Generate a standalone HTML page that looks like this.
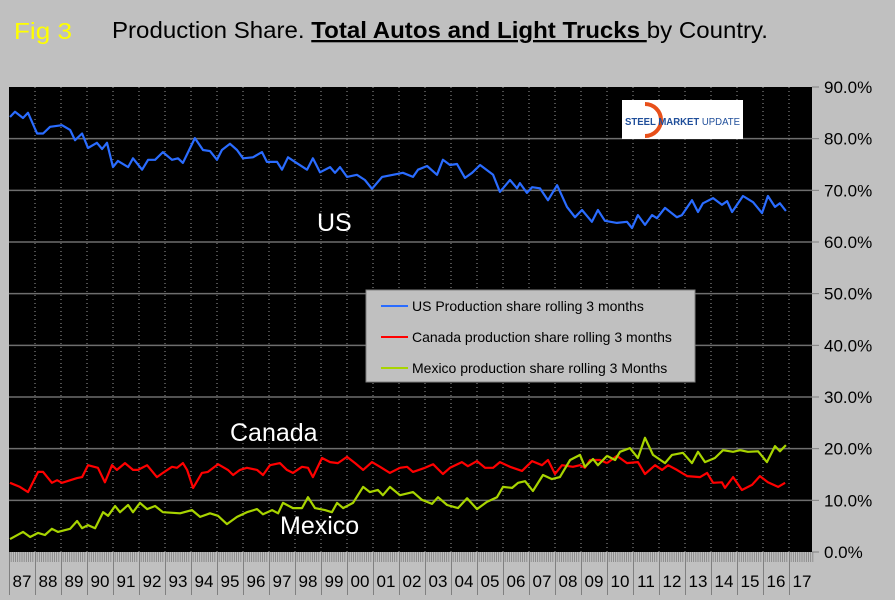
<!DOCTYPE html>
<html><head><meta charset="utf-8"><style>
html,body{margin:0;padding:0;background:#c0c0c0;}
svg{display:block;font-family:"Liberation Sans",sans-serif;}
</style></head><body>
<svg id="chart" width="895" height="600" viewBox="0 0 895 600">
<rect x="0" y="0" width="895" height="600" fill="#c0c0c0"/>
<text x="14" y="39" font-size="23" fill="#ffff00" textLength="58" lengthAdjust="spacingAndGlyphs">Fig 3</text>
<text x="112" y="38" font-size="23" fill="#000" textLength="656" lengthAdjust="spacingAndGlyphs">Production Share. <tspan font-weight="bold" text-decoration="underline">Total Autos and Light Trucks </tspan>by Country.</text>
<rect x="9" y="87" width="803" height="465" fill="#000"/>
<g id="grid"></g><g id="xaxis"></g><g id="yaxis"></g><g id="series"></g>
<text x="317" y="231" font-size="25" fill="#fff">US</text>
<text x="230" y="441" font-size="25" fill="#fff">Canada</text>
<text x="280" y="534" font-size="25" fill="#fff">Mexico</text>
<g>
<rect x="622" y="100" width="121" height="39" fill="#fff"/>
<path d="M645 104 A16 16 0 1 1 645 136" fill="none" stroke="#e8501a" stroke-width="4"/>
<text x="625" y="125" font-size="10.5" font-weight="bold" fill="#1f4e9a" textLength="115" lengthAdjust="spacingAndGlyphs">STEEL MARKET <tspan font-weight="normal">UPDATE</tspan></text>
</g>
<g>
<rect x="366" y="290" width="329" height="92" fill="#c0c0c0" stroke="#808080" stroke-width="1"/>
<line x1="381" y1="306" x2="408" y2="306" stroke="#2a6cff" stroke-width="2"/>
<text x="412" y="311" font-size="14" fill="#000">US Production share rolling 3 months</text>
<line x1="381" y1="337" x2="408" y2="337" stroke="#ff0000" stroke-width="2"/>
<text x="412" y="342" font-size="14" fill="#000">Canada production share rolling 3 months</text>
<line x1="381" y1="368" x2="408" y2="368" stroke="#a8d400" stroke-width="2"/>
<text x="412" y="373" font-size="14" fill="#000">Mexico production share rolling 3 Months</text>
</g>
</svg>
<script>
const yTicks=[0,10,20,30,40,50,60,70,80,90];
const yearLabels=["87","88","89","90","91","92","93","94","95","96","97","98","99","00","01","02","03","04","05","06","07","08","09","10","11","12","13","14","15","16","17"];
const usT=[.04,.23,.54,.73,1.08,1.31,1.58,2.04,2.35,2.54,2.81,3.04,3.38,3.58,3.77,4.0,4.19,4.58,4.77,5.12,5.35,5.62,5.92,6.27,6.5,6.69,7.15,7.46,7.73,8.0,8.19,8.5,8.77,9.0,9.38,9.73,9.92,10.31,10.5,10.73,11.0,11.46,11.69,11.96,12.35,12.54,12.73,13.0,13.38,13.69,13.96,14.35,14.77,15.15,15.54,15.73,16.08,16.46,16.69,16.96,17.23,17.54,17.81,18.12,18.62,18.88,19.27,19.54,19.65,19.92,20.12,20.42,20.73,21.08,21.46,21.77,22.04,22.42,22.65,22.92,23.38,23.77,23.96,24.19,24.46,24.73,24.92,25.23,25.69,25.88,26.27,26.5,26.69,27.08,27.42,27.62,27.81,28.23,28.62,28.96,29.19,29.46,29.65,29.88];
const usV=[84.2,85.2,84,85,81,81,82.3,82.6,81.7,79.7,81,78.2,79.2,78,79.2,74.5,75.7,74.5,76.2,74,75.9,75.9,77.4,75.9,76.2,75.3,80.1,77.8,77.6,75.9,77.8,79,77.8,76.2,76.4,77.4,75.5,75.5,74,76.4,75.5,74,76.2,73.5,74.5,73.4,74.5,72.6,73,72,70.3,72.6,73,73.4,72.6,74,74.7,73,75.9,74.9,75.1,72.4,73.4,74.9,73,69.7,72,70.4,71.4,69.5,70.6,70.4,68.1,71,66.8,64.8,66.2,63.9,66.2,64.1,63.7,63.9,62.7,65.2,63.3,65.2,64.6,66.6,64.8,65.2,68.1,65.8,67.5,68.5,67.2,67.9,65.8,68.9,67.7,65.6,68.9,66.8,67.5,66];
const caT=[.04,.42,.73,1.12,1.31,1.65,1.85,2.04,2.62,2.81,3.04,3.42,3.69,3.96,4.15,4.46,4.77,4.96,5.31,5.69,5.92,6.27,6.46,6.69,6.85,7.08,7.42,7.65,8.04,8.42,8.62,8.88,9.15,9.54,9.77,10.04,10.42,10.69,10.92,11.27,11.5,11.69,12.04,12.35,12.65,13.0,13.31,13.62,13.96,14.27,14.65,15.04,15.31,15.54,16.0,16.31,16.69,16.96,17.42,17.65,18.0,18.31,18.62,18.88,19.27,19.73,20.12,20.5,20.73,21.0,21.27,21.69,21.96,22.15,22.35,22.73,23.0,23.38,23.77,24.19,24.46,24.85,25.12,25.35,25.69,26.08,26.58,26.85,27.08,27.42,27.54,27.85,28.19,28.58,28.88,29.19,29.58,29.85];
const caV=[13.4,12.6,11.6,15.5,15.5,13.4,13.9,13.4,14.3,14.5,16.8,16.3,13.5,16.8,15.9,17.2,15.9,15.9,16.8,14.5,15.3,16.5,16.3,17.2,15.9,12.4,15.3,15.5,17,15.9,14.9,15.9,16.3,15.9,14.9,16.8,17.2,15.9,15.3,16.5,16.3,14.5,18.2,17.4,17.2,18.4,17.2,15.9,17.4,16.5,15.3,16.3,16.5,15.5,16.3,17,15.1,16.3,17.4,16.6,17.6,16.3,16.3,17.4,16.5,15.7,17.6,16.8,17.8,15.1,16.8,16.5,16.8,16.3,17.8,17.8,17.2,18.6,17.2,17.4,15.1,16.8,15.9,16.8,15.9,14.7,14.5,15.3,13.4,13.5,12.4,14.5,12,13,14.7,13.5,12.6,13.4];
const mxT=[.04,.54,.81,1.12,1.38,1.65,1.88,2.35,2.62,2.81,3.04,3.31,3.62,3.81,4.08,4.27,4.58,4.77,5.04,5.31,5.62,5.92,6.58,7.04,7.35,7.73,8.04,8.38,8.77,9.15,9.54,9.77,10.12,10.35,10.54,10.92,11.27,11.5,11.77,12.15,12.42,12.62,12.85,13.23,13.62,13.88,14.19,14.38,14.65,15.04,15.54,15.88,16.27,16.5,16.85,17.27,17.62,18.0,18.38,18.77,19.0,19.35,19.58,19.85,20.15,20.54,20.88,21.19,21.58,21.96,22.15,22.46,22.65,23.0,23.31,23.5,23.88,24.19,24.46,24.77,25.23,25.5,25.92,26.27,26.5,26.77,27.15,27.46,27.85,28.12,28.42,28.81,29.15,29.46,29.65,29.88];
const mxV=[2.5,3.9,2.9,3.7,3.3,4.5,3.9,4.5,6,4.6,5.2,4.6,7.7,7,8.9,7.7,9.1,7.7,9.5,8.3,8.9,7.7,7.5,8.1,6.8,7.5,7,5.4,6.8,7.7,8.3,7.3,8.1,7.5,9.5,8.5,8.5,10.6,8.5,8.1,7.7,9.5,8.5,9.5,12.6,11.6,12,11,12.6,11,11.6,10.1,9.3,10.6,9.1,8.5,10.4,8.3,9.7,10.6,12.6,12.4,13.4,13.7,11.8,14.9,14.1,14.5,17.8,18.8,16.5,18,16.8,18.6,17.8,19.4,20.1,18.2,22.1,18.8,17.2,18.8,19.2,17.2,19.4,17.4,18.2,19.7,19.4,19.7,19.4,19.5,17.4,20.5,19.5,20.7];

const NS="http://www.w3.org/2000/svg";
const X0=9,YW=26,Y0=552,PY=465/90;
function xs(t){return X0+t*YW;}
function ys(v){return Y0-v*PY;}
function mk(tag,attrs,parent){const e=document.createElementNS(NS,tag);for(const k in attrs)e.setAttribute(k,attrs[k]);parent.appendChild(e);return e;}
const grid=document.getElementById('grid'),xa=document.getElementById('xaxis'),ya=document.getElementById('yaxis'),ser=document.getElementById('series');
yearLabels.forEach((lab,i)=>{
  if(i>0){const g=mk('line',{x1:xs(i),x2:xs(i),y1:87,y2:552,stroke:'#9a9a9a','stroke-width':1,'stroke-dasharray':'1,3'},grid);
  
  }
  const sep=mk('line',{x1:xs(i)+0.5,x2:xs(i)+0.5,y1:552,y2:595,stroke:'#808080','stroke-width':1},xa);
  
  
  for(let m=1;m<12;m++){const tk=mk('line',{x1:xs(i+m/12),x2:xs(i+m/12),y1:552,y2:562,stroke:'#808080','stroke-width':0.8},xa);
  
  }
  const tx=mk('text',{x:xs(i+0.5),y:587,'font-size':17,'text-anchor':'middle',fill:'#000'},xa);
  tx.textContent=lab;
  
  
});
yTicks.forEach(v=>{
  if(v>0&&v<90){const g=mk('line',{x1:9,x2:812,y1:ys(v),y2:ys(v),stroke:'#6e6e6e','stroke-width':1.5},grid);
  
  }
  const tk=mk('line',{x1:812,x2:819,y1:ys(v),y2:ys(v),stroke:'#808080','stroke-width':1},ya);
  
  
  const tx=mk('text',{x:824,y:ys(v)+6,'font-size':17,fill:'#000'},ya);
  tx.textContent=v.toFixed(1)+'%';
  
  
});
function line(T,V,color,name){
  const d=T.map((t,i)=>(i?'L':'M')+xs(t).toFixed(1)+' '+ys(V[i]).toFixed(1)).join(' ');
  const p=mk('path',{d:d,fill:'none',stroke:color,'stroke-width':2.2,'stroke-linejoin':'round'},ser);
  
  
}
line(usT,usV,'#2a6cff','us-series-line');
line(caT,caV,'#ff0000','canada-series-line');
line(mxT,mxV,'#a8d400','mexico-series-line');
</script>
</body></html>
